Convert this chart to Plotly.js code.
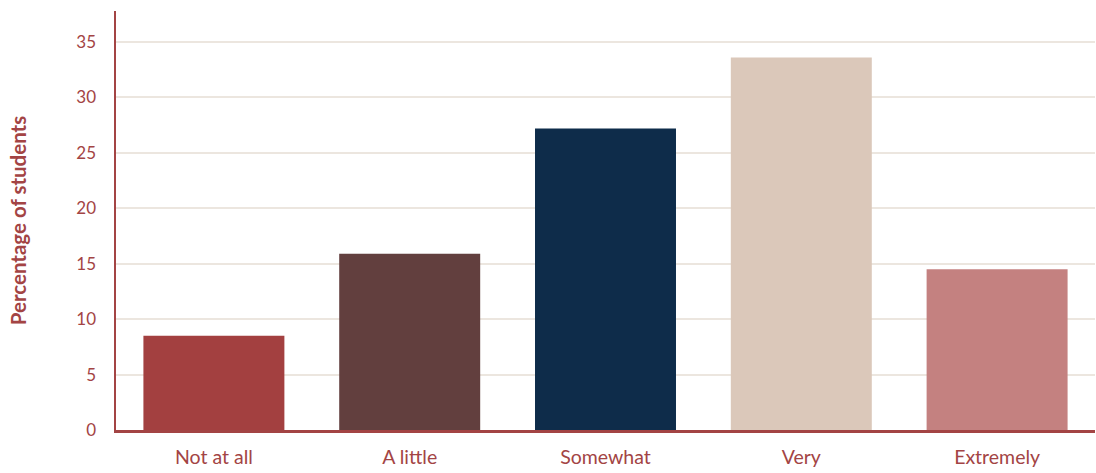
<!DOCTYPE html>
<html>
<head>
<meta charset="utf-8">
<script src="https://cdn.plot.ly/plotly-3.0.1.min.js"></script>
<style>
  html, body { margin: 0; padding: 0; background: #ffffff; }
  #chart { width: 1096px; height: 473px; }
</style>
</head>
<body>
<div id="chart"></div>
<script>
// Survey responses: share of students per answer
const categories = ["Not at all", "A little", "Somewhat", "Very", "Extremely"];
const percentages = [8.5, 15.9, 27.2, 33.6, 14.5];
const barColors = ["#a34040", "#623f3e", "#0e2c4a", "#dbc8ba", "#c48180"];
const yTicks = [0, 5, 10, 15, 20, 25, 30, 35];

const accent = "#a34444";
const fontFamily = "Lato, 'Open Sans', sans-serif";

const trace = {
  type: "bar",
  x: categories,
  y: percentages,
  marker: { color: barColors, line: { width: 0 } },
  hoverinfo: "x+y"
};

const layout = {
  width: 1096,
  height: 473,
  margin: { l: 116, r: 1, t: 11, b: 43 },
  paper_bgcolor: "#ffffff",
  plot_bgcolor: "#ffffff",
  bargap: 0.28,
  showlegend: false,
  font: { family: fontFamily, color: accent, size: 17 },
  xaxis: {
    type: "category",
    showgrid: false,
    showline: true,
    linecolor: accent,
    linewidth: 2.5,
    ticks: "",
    ticklabelstandoff: 8,
    tickfont: { family: fontFamily, size: 19.5, color: accent },
    layer: "below traces",
    zeroline: false
  },
  yaxis: {
    range: [0, 37.8],
    tickvals: yTicks,
    ticktext: yTicks.map(String),
    showgrid: true,
    gridcolor: "#ece6df",
    gridwidth: 2,
    showline: true,
    linecolor: accent,
    linewidth: 2.5,
    zeroline: false,
    ticks: "",
    ticklabelstandoff: 14,
    tickfont: { family: fontFamily, size: 17, color: accent },
    layer: "below traces",
    title: {
      text: "<b>Percentage of students</b>",
      font: { family: fontFamily, size: 20.5, color: accent },
      standoff: 44
    }
  }
};

Plotly.newPlot("chart", [trace], layout, { displayModeBar: false, staticPlot: true });
</script>
</body>
</html>
